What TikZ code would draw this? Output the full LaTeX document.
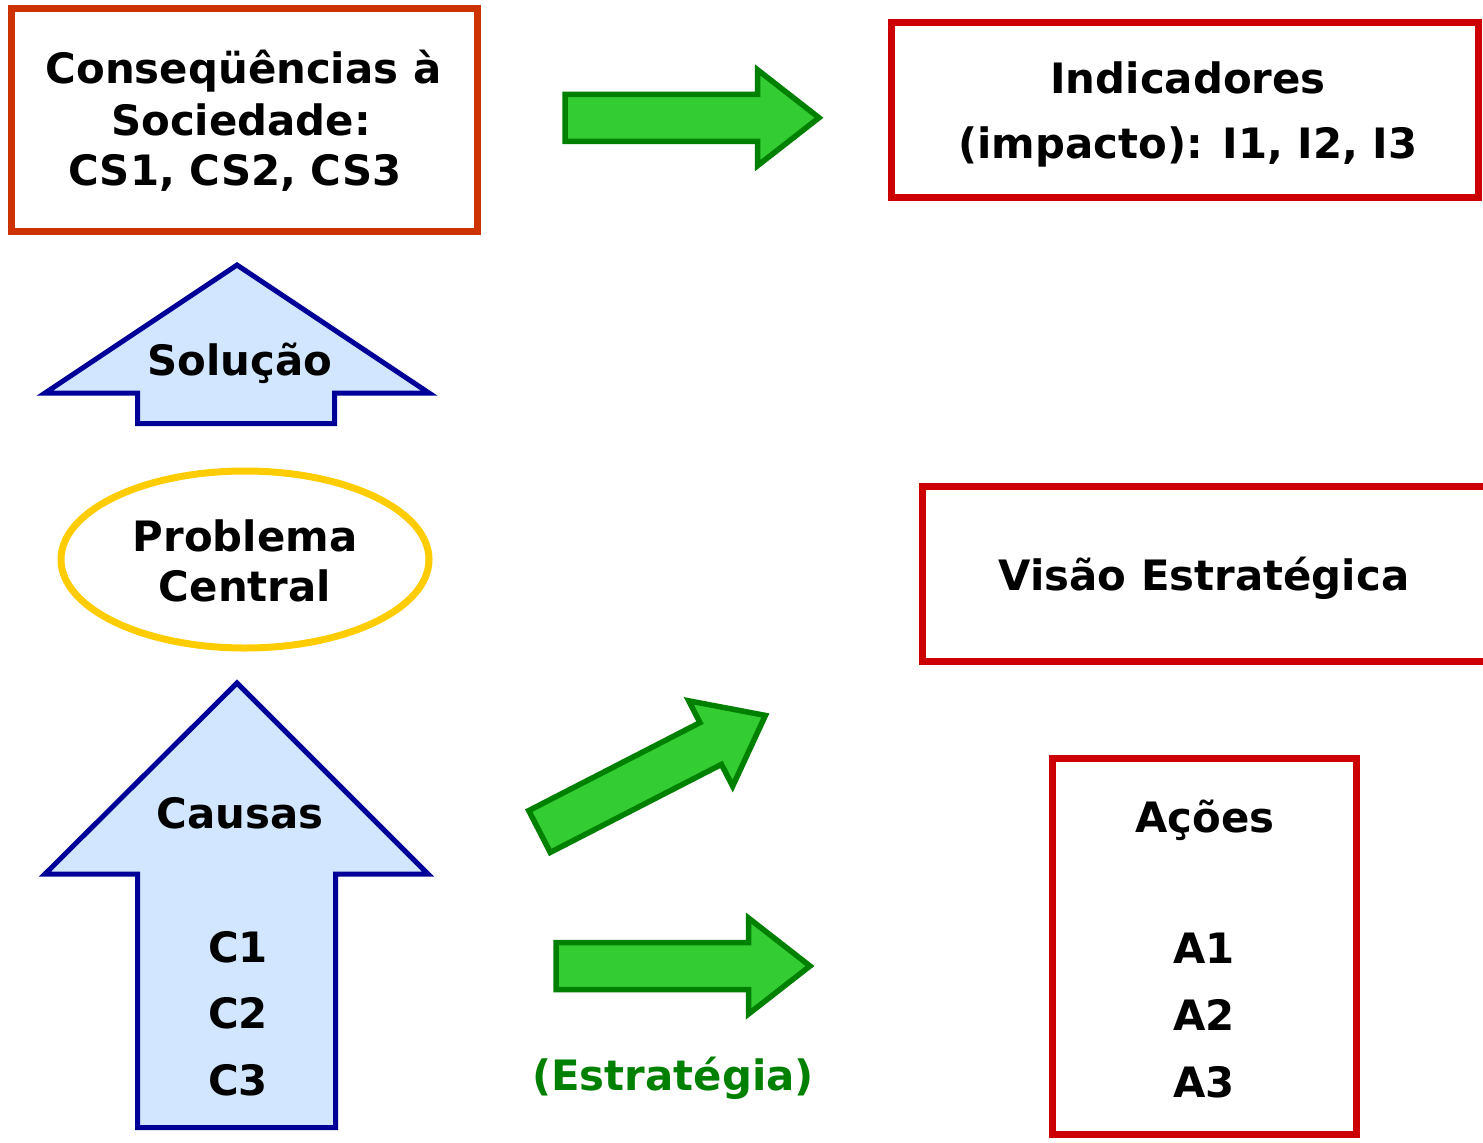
\documentclass[tikz,border=0pt]{standalone}
\usepackage{fontspec}
\setmainfont{DejaVu Sans}
\usetikzlibrary{shapes.geometric}

\definecolor{csred}{HTML}{CC3300}
\definecolor{boxred}{HTML}{CC0000}
\definecolor{arrowblue}{HTML}{000099}
\definecolor{lightblue}{HTML}{D2E7FF}
\definecolor{probyellow}{HTML}{FFCC00}
\definecolor{darkgreen}{HTML}{008000}
\definecolor{arrowgreen}{HTML}{33CC33}

\tikzset{
  box/.style={draw=boxred,line width=7bp,rectangle,inner sep=0pt},
  txt/.style={font=\fontsize{42}{51}\selectfont\bfseries,anchor=base,inner sep=0pt},
  bluearrow/.style={draw=arrowblue,fill=lightblue,line width=5bp,line join=miter},
  greenarrow/.pic={
    \draw[draw=darkgreen,fill=arrowgreen,line width=5.5bp]
      (0,-23.5) -- (192.5,-23.5) -- (192.5,-48) -- (254,0)
      -- (192.5,48) -- (192.5,23.5) -- (0,23.5) -- cycle;
  }
}

\begin{document}
\begin{tikzpicture}[x=1bp,y=-1bp]
\useasboundingbox (0,0) rectangle (1483,1142);

% left column
\node[box,draw=csred,minimum width=465.5bp,minimum height=223bp] (cs) at (244.25,119.5) {};
\node[txt] (cs1) at (243.5,83) {Conseqüências à};
\node[txt] (cs2) at (241,135) {Sociedade:};
\node[txt] (cs3) at (235,185) {CS1, CS2, CS3};

\draw[bluearrow] (237,265) -- (429,393) -- (334.5,393) -- (334.5,423.5)
  -- (137.5,423.5) -- (137.5,393) -- (45,393) -- cycle;
\node[txt] (solucao) at (240,375) {Solução};

\node[ellipse,draw=probyellow,line width=7bp,minimum width=368bp,minimum height=177bp]
  (prob) at (245,559.5) {};
\node[txt] (prob1) at (245,551) {Problema};
\node[txt] (prob2) at (245,601) {Central};

\draw[bluearrow] (237,683) -- (428,874) -- (335.5,874) -- (335.5,1127.5)
  -- (137.5,1127.5) -- (137.5,874) -- (45,874) -- cycle;
\node[txt] (causas) at (240,828) {Causas};
\node[txt] (c1) at (238,962) {C1};
\node[txt] (c2) at (238,1028) {C2};
\node[txt] (c3) at (238,1095) {C3};

% green arrows
\pic at (565,117.75) {greenarrow};
\pic[rotate=27.2] at (539.5,831.5) {greenarrow};
\pic at (556,966) {greenarrow};
\node[txt,text=darkgreen] (estrat) at (673,1090) {(Estratégia)};

% right column
\node[box,minimum width=587bp,minimum height=175bp] (indic) at (1184.5,109.5) {};
\node[txt] (indic1) at (1188,93) {Indicadores};
\node[txt] (indic2) at (1188,158) {(impacto): I1, I2, I3};

\node[box,minimum width=568bp,minimum height=175bp] (visao) at (1206,573.5) {};
\node[txt] (visao1) at (1204,590) {Visão Estratégica};

\node[box,minimum width=304bp,minimum height=376bp] (acoes) at (1204,946) {};
\node[txt] (acoes1) at (1205,832) {Ações};
\node[txt] (a1) at (1204,963) {A1};
\node[txt] (a2) at (1204,1030) {A2};
\node[txt] (a3) at (1204,1097) {A3};
\end{tikzpicture}
\end{document}
